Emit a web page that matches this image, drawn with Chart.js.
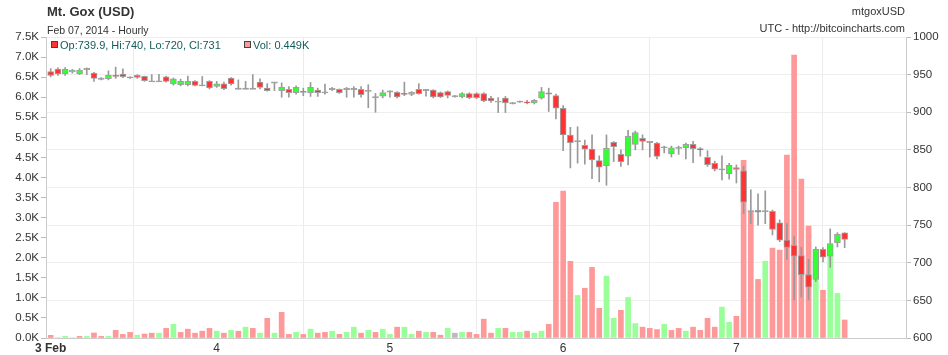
<!DOCTYPE html>
<html>
<head>
<meta charset="utf-8">
<script src="https://cdn.jsdelivr.net/npm/chart.js@4/dist/chart.umd.min.js"></script>
<style>
  body { margin: 0; background: #fff; }
  #wrap { position: relative; width: 948px; height: 355px; font-family: "Liberation Sans", Arial, sans-serif; color: #333; }
  #c { position: absolute; left: 0; top: 0; }
  .t { position: absolute; white-space: nowrap; }
  .sq { position: absolute; width: 5px; height: 5px; border: 1px solid #444; }
</style>
</head>
<body>
<div id="wrap">
  <canvas id="c" width="948" height="355"></canvas>
  <div class="t" style="left:47px;top:4px;font-size:13px;font-weight:bold;line-height:15px;">Mt. Gox (USD)</div>
  <div class="t" style="left:47px;top:24px;font-size:10.5px;line-height:13px;">Feb 07, 2014 - Hourly</div>
  <div class="t" style="right:43px;top:5px;font-size:11px;line-height:13px;">mtgoxUSD</div>
  <div class="t" style="right:43px;top:22px;font-size:11px;line-height:13px;">UTC - http://bitcoincharts.com</div>
  <div class="sq" style="left:51px;top:41px;background:#ff3333;"></div>
  <div class="t" style="left:60px;top:39px;font-size:11px;line-height:13px;color:#145c5c;">Op:739.9, Hi:740, Lo:720, Cl:731</div>
  <div class="sq" style="left:244px;top:41px;background:#ff9999;"></div>
  <div class="t" style="left:253px;top:39px;font-size:11px;line-height:13px;color:#145c5c;">Vol: 0.449K</div>
</div>
<script>
// hourly candles, Feb 3 - Feb 7 2014 (hour index from Feb 3 00:00)
const opens = [954,957.5,951,953.5,951,957.5,952,944.5,944.5,949,
  950.7,946.3,948.9,947.6,941,941,947,937.5,936.6,936.6,
  941,935.7,941,934.4,937.9,945.4,931.3,931.3,931.3,940,
  932,939.6,928.8,930.4,926,927.9,926,929.5,926.5,930.9,
  930.4,930.9,930.9,930.4,928.4,920,921.5,927.5,926.6,925,
  923.7,930.4,929.5,929.5,926,927.5,921.3,920.4,924.8,924.8,
  924.8,918.7,914.2,918.7,912,914.2,913.8,912.4,918.7,925.8,
  922.2,905.3,869.8,861.5,856.2,850.9,835.8,829.1,860,844.2,
  841.5,857.3,865.4,860.5,859,853.3,844.6,852.6,852.9,857.3,
  851.6,840,832,824,818.5,826.6,822.2,768.6,769.5,768.6,
  768.2,753,730,723,709.5,684.3,677.7,718,708.6,726.8,
  739.9];
const highs = [958,959,959.5,957,958,959,953,946,955,960,
  957.7,947,950,948,950,950.5,948,945.5,944,948,
  942,947.6,942,941,940,946,943,941,950,944.5,
  938,939.6,939,934,935,932,939.6,932,937.5,933,
  931,933,934,934,936.6,925,929.5,928.4,927.5,940,
  927.5,938,930.4,930,927,928.4,922,926,926,926,
  926,921,919.5,921,913,915,916,917,933,932,
  924,909,880,880.7,863,869.9,842,869.9,861,850,
  876,875,870,860.5,860,855,855,855,859,861.5,
  853,849,835,842,832,830,828.4,797,791.6,795.6,
  770,757,752,734.7,720.6,704.5,721,720,745,740,
  740];
const lows = [947,949,949,952,950,950,941,943,943,945,
  946,945,945,941,941,941,940,936,935,935,
  935,935,931,933,930,936,931,931,931,931,
  928,928.8,920,920,924,922,921,921,924,928.8,
  925,920,920,920,906,900,919,920,919,922,
  922,924,921.5,919,919.5,919,920,919,918,918,
  914,913,899.6,899.6,911,913,911,911,917.5,901,
  891,849,826,832.4,831,811.9,807.5,803,834.4,828,
  830,850,850,840.5,838,846,840.5,844,838,833,
  841.5,828,822,810,811,806,765.5,752,750,752,
  737,728,704.5,650.5,654.5,650.5,675,701,694,721,
  720];
const closes = [949,951,957.5,956,956,957.7,945,944.5,949,947.6,
  947.2,946.3,946.3,942,941,941,941,944.5,941,941,
  935.7,935.7,932.2,937.9,931.3,937.5,931.3,931.3,931.3,933,
  928.8,939.6,933,926,933,926.5,933,926,926.5,930.9,
  926,930.9,930.9,923.3,928.4,920,926,927.5,920.4,923.7,
  926.6,924.6,929.5,920.4,920.4,922.4,921.3,924.8,919.5,919.5,
  915.1,915.1,914.6,912.4,912.2,914.4,912.4,916,927.5,924,
  905.3,869.8,859.7,861.5,850.9,836.7,826.9,852.2,854.2,834.4,
  868,873,861.4,860.5,841.4,853.3,852.6,852.6,857.3,851.6,
  849.8,830.5,824.5,824,829.5,824,780.5,768.6,767.3,768.6,
  744.2,730,720.3,708.6,684.3,667.4,718,707.4,725.5,737.9,
  731];
// volume in thousands
const vols = [0.067,0,0.042,0,0.04,0.04,0.125,0.04,0.04,0.19,
  0.09,0.14,0.07,0.10,0.12,0.12,0.24,0.34,0.14,0.22,
  0.12,0.17,0.24,0.17,0.12,0.19,0.17,0.27,0.24,0.12,
  0.49,0.12,0.64,0.09,0.14,0.09,0.22,0.12,0.14,0.17,
  0.09,0.14,0.27,0.12,0.19,0.14,0.22,0.09,0.27,0.27,
  0.09,0.17,0.14,0.14,0.07,0.24,0.12,0.14,0.14,0.09,
  0.47,0.12,0.24,0.24,0.14,0.14,0.17,0.12,0.17,0.34,
  3.38,3.66,1.91,1.06,1.24,1.76,0.74,1.54,0.49,0.69,
  1.01,0.36,0.27,0.24,0.21,0.34,0.19,0.24,0.17,0.27,
  0.19,0.49,0.27,0.77,0.39,0.54,4.43,3.14,1.46,1.91,
  2.24,2.19,4.56,7.05,3.96,2.79,1.85,1.19,2.04,1.11,
  0.449];
// u = up, d = down, f = unchanged (volume bar colour)
const volDir = ('d f u f d u d d u d ' +
  'd d u d d u d u d d ' +
  'd d d u d u d u d u ' +
  'd u d d u d u d d u ' +
  'd u u d u d u u d u ' +
  'u d u d d u f u d d ' +
  'd d u d u u d u u d ' +
  'd d d u d d d u u d ' +
  'u u d d d u d d u d ' +
  'd d d u u d d d d u ' +
  'd d d d d d u d u u d').split(' ');

const tickHours = [1, 24, 48, 72, 96];
const tickLabels = ['3 Feb', '4', '5', '6', '7'];

const hours = opens.map((o, i) => i + 1);

const volColor = d => d === 'u' ? '#99ff99' : (d === 'd' ? '#ff9999' : '#bbbbbb');
const bodyColor = i => closes[i] > opens[i] + 0.3 ? '#33ff33' : (closes[i] < opens[i] - 0.3 ? '#ff3333' : '#999999');

Chart.defaults.font.family = '"Liberation Sans", Arial, sans-serif';
Chart.defaults.color = '#333';

new Chart(document.getElementById('c'), {
  type: 'bar',
  data: {
    datasets: [
      {
        data: hours.map((h, i) => ({ x: h, y: vols[i] })),
        yAxisID: 'yv',
        backgroundColor: volDir.map(volColor),
        barThickness: 5,
        grouped: false,
        order: 3
      },
      {
        data: hours.map((h, i) => ({ x: h, y: [lows[i], highs[i]] })),
        yAxisID: 'yp',
        backgroundColor: '#999',
        barThickness: 1,
        grouped: false,
        order: 2
      },
      {
        data: hours.map((h, i) => {
          const o = opens[i], c = closes[i];
          return { x: h, y: Math.abs(o - c) < 0.6 ? [o - 0.8, o + 0.8] : [o, c] };
        }),
        yAxisID: 'yp',
        backgroundColor: hours.map((h, i) => bodyColor(i)),
        borderColor: '#a0a0a0',
        borderWidth: 1,
        borderSkipped: false,
        barThickness: 6,
        grouped: false,
        order: 1
      }
    ]
  },
  options: {
    responsive: false,
    animation: false,
    layout: { padding: { top: 37, left: 0, right: 0, bottom: 0 } },
    plugins: { legend: { display: false }, tooltip: { enabled: false } },
    scales: {
      x: {
        type: 'linear',
        min: 0.35,
        max: 119.5,
        offset: false,
        afterBuildTicks: s => { s.ticks = tickHours.map(v => ({ value: v })); },
        afterFit: s => { s.height = 17; },
        ticks: {
          autoSkip: false,
          maxRotation: 0,
          padding: 3,
          font: c => ({ size: 12, weight: c.index === 0 ? 'bold' : 'normal' }),
          callback: (v, i) => tickLabels[i]
        },
        grid: { color: '#ebebeb', drawTicks: false },
        border: { color: '#cccccc' }
      },
      yv: {
        position: 'left',
        min: 0,
        max: 7.5,
        afterFit: s => { s.width = 46; },
        ticks: { stepSize: 0.5, padding: 2, font: { size: 11.5 }, callback: v => v.toFixed(1) + 'K' },
        grid: { drawOnChartArea: false, tickLength: 5, tickColor: '#bbbbbb' },
        border: { color: '#cccccc' }
      },
      yp: {
        position: 'right',
        min: 600,
        max: 1000,
        afterFit: s => { s.width = 42; },
        ticks: { stepSize: 50, padding: 2, font: { size: 11.5 }, callback: v => String(v) },
        grid: { color: '#eeeeee', tickLength: 5, tickColor: '#bbbbbb' },
        border: { color: '#cccccc' }
      }
    }
  }
});
</script>
</body>
</html>
